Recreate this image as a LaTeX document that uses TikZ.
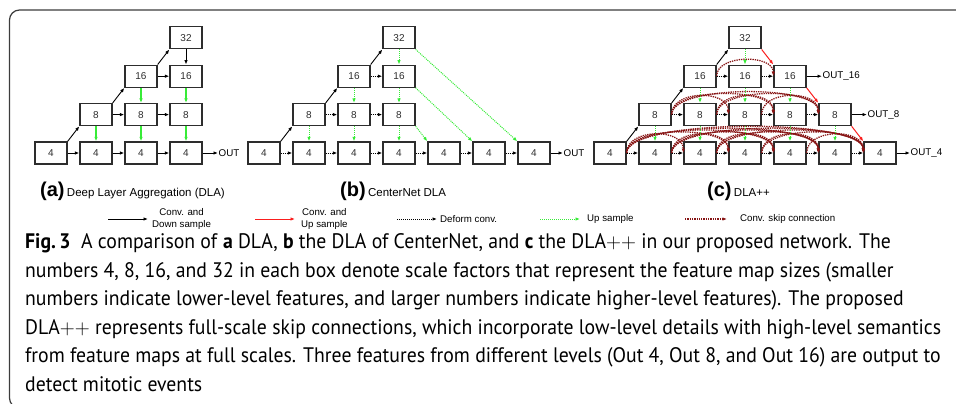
\documentclass[tikz,border=0pt]{standalone}
\usepackage{fontspec}
\setmainfont{Liberation Sans}
\newfontfamily\capfont{PT Sans}[FakeStretch=0.94]
\usetikzlibrary{calc,positioning,arrows.meta}

\definecolor{boxgray}{RGB}{45,45,45}
\definecolor{framegray}{RGB}{60,60,60}
\definecolor{upgreen}{RGB}{55,235,55}
\definecolor{upred}{RGB}{250,30,30}
\definecolor{skipred}{RGB}{135,20,20}

\tikzset{
fmap/.style={
  draw=boxgray,
  line width=1.3pt,
  minimum width=32pt,
  minimum height=22pt,
  inner sep=0pt,
  text=boxgray,
  font=\fontsize{10}{12}\selectfont
  },
convdown/.style={->,line width=0.9pt,draw=black},
convup/.style={->,line width=1pt,draw=upred},
deform/.style={->,line width=1pt,densely dotted,draw=black},
upsamp/.style={->,line width=1pt,densely dotted,draw=upgreen},
upsolid/.style={->,line width=1.2pt,draw=upgreen},
skipconn/.style={->,line width=1.3pt,densely dotted,draw=skipred},
outtext/.style={anchor=west,inner sep=0.5pt,font=\fontsize{9.8}{12}\selectfont},
panelletter/.style={anchor=base west,inner sep=0pt,font=\bfseries\fontsize{20}{22}\selectfont},
paneltitle/.style={anchor=base west,inner sep=0pt,font=\fontsize{11.5}{13}\selectfont},
legtext/.style={inner sep=0pt,align=center,font=\fontsize{9.7}{11.5}\selectfont}
}

\begin{document}
\begin{tikzpicture}[x=1pt,y=-1pt,>={Latex[length=4.5pt,width=3.5pt]}]
\useasboundingbox (0,0) rectangle (956,404);
\clip (0,0) rectangle (956,404);
\draw[framegray,line width=1.2pt,rounded corners=10pt] (9.5,10) rectangle (980,408);

% (a) plain DLA
\foreach \c in {0,...,3} \node[fmap] (a4c\c) at ({51+45*\c},153) {4};
\foreach \c in {1,...,3} \node[fmap] (a8c\c) at ({51+45*\c},114.6) {8};
\foreach \c in {2,3} \node[fmap] (a16c\c) at ({51+45*\c},76.2) {16};
\node[fmap] (a32) at (186,37.8) {32};
\node[outtext] (aout) at (218,153) {OUT};

\draw[convdown] (a4c0.north east) -- (a8c1.south west);
\draw[convdown] (a8c1.north east) -- (a16c2.south west);
\draw[convdown] (a16c2.north east) -- (a32.south west);
\draw[convdown] (a32) -- (a16c3);
\draw[convdown] (a16c2) -- (a16c3);
\draw[convdown] (a8c1) -- (a8c2);
\draw[convdown] (a8c2) -- (a8c3);
\foreach \c [count=\n from 1] in {0,1,2} \draw[convdown] (a4c\c) -- (a4c\n);
\draw[convdown] (a4c3) -- (aout);
\foreach \c in {1,2,3} \draw[upsolid] (a8c\c) -- (a4c\c);
\foreach \c in {2,3} \draw[upsolid] (a16c\c) -- (a8c\c);

% (b) CenterNet DLA
\foreach \c in {0,...,6} \node[fmap] (b4c\c) at ({264+45*\c},153) {4};
\foreach \c in {1,...,3} \node[fmap] (b8c\c) at ({264+45*\c},114.6) {8};
\foreach \c in {2,3} \node[fmap] (b16c\c) at ({264+45*\c},76.2) {16};
\node[fmap] (b32) at (399,37.8) {32};
\node[outtext] (bout) at (563,153) {OUT};

\draw[convdown] (b4c0.north east) -- (b8c1.south west);
\draw[convdown] (b8c1.north east) -- (b16c2.south west);
\draw[convdown] (b16c2.north east) -- (b32.south west);
\foreach \c [count=\n from 1] in {0,...,5} \draw[deform] (b4c\c) -- (b4c\n);
\draw[deform] (b8c1) -- (b8c2);
\draw[deform] (b8c2) -- (b8c3);
\draw[deform] (b16c2) -- (b16c3);
\draw[convdown] (b4c6) -- (bout);
\draw[upsamp] (b32) -- (b16c3);
\foreach \c in {2,3} \draw[upsamp] (b16c\c) -- (b8c\c);
\foreach \c in {1,2,3} \draw[upsamp] (b8c\c) -- (b4c\c);
\draw[upsamp] (b8c3.south east) -- (b4c4.north west);
\draw[upsamp] (b16c3.south east) -- (b4c5.north west);
\draw[upsamp] (b32.south east) -- (b4c6.north west);

% (c) DLA++
\foreach \c in {0,...,6} \node[fmap] (c4c\c) at ({610+45*\c},153) {4};
\foreach \c in {1,...,5} \node[fmap] (c8c\c) at ({610+45*\c},114.6) {8};
\foreach \c in {2,...,4} \node[fmap] (c16c\c) at ({610+45*\c},76.2) {16};
\node[fmap] (c32) at (745,37.8) {32};
\node[outtext] (cout16) at (822,76.2) {OUT\_16};
\node[outtext] (cout8) at (867,114.6) {OUT\_8};
\node[outtext] (cout4) at (910,153) {OUT\_4};

% skip connections first, boxes' arrows on top
\foreach \i in {0,...,4}{
  \pgfmathtruncatemacro\jfirst{\i+2}
  \foreach \j in {\jfirst,...,6}{
    \pgfmathsetmacro\h{20+2.5*(\j-\i)}
    \draw[skipconn] (c4c\i.east) .. controls +(0,-\h) and +(0,-\h) .. (c4c\j.west);
  }
}
\foreach \i in {1,...,3}{
  \pgfmathtruncatemacro\jfirst{\i+2}
  \foreach \j in {\jfirst,...,5}{
    \pgfmathsetmacro\h{20+2.5*(\j-\i)}
    \draw[skipconn] (c8c\i.east) .. controls +(0,-\h) and +(0,-\h) .. (c8c\j.west);
  }
}
\draw[skipconn] (c16c2.east) .. controls +(0,-22) and +(0,-22) .. (c16c4.west);

\draw[convdown] (c4c0.north east) -- (c8c1.south west);
\draw[convdown] (c8c1.north east) -- (c16c2.south west);
\draw[convdown] (c16c2.north east) -- (c32.south west);
\foreach \c [count=\n from 1] in {0,...,5} \draw[deform] (c4c\c) -- (c4c\n);
\foreach \c [count=\n from 2] in {1,...,4} \draw[deform] (c8c\c) -- (c8c\n);
\foreach \c [count=\n from 3] in {2,3} \draw[deform] (c16c\c) -- (c16c\n);
\draw[upsamp] (c32) -- (c16c3);
\foreach \c in {2,...,4} \draw[upsamp] (c16c\c) -- (c8c\c);
\foreach \c in {1,...,5} \draw[upsamp] (c8c\c) -- (c4c\c);
\draw[convup] (c32.south east) -- (c16c4.north west);
\draw[convup] (c16c4.south east) -- (c8c5.north west);
\draw[convup] (c8c5.south east) -- (c4c6.north west);
\draw[convdown] (c16c4) -- (cout16);
\draw[convdown] (c8c5) -- (cout8);
\draw[convdown] (c4c6) -- (cout4);

% panel titles
\node[panelletter] (alet) at (40,196) {(a)};
\node[paneltitle] (atitle) at (alet.base east) {\,Deep Layer Aggregation (DLA)};
\node[panelletter] (blet) at (340,196) {(b)};
\node[paneltitle] (btitle) at (blet.base east) {\,CenterNet DLA};
\node[panelletter] (clet) at (707,196) {(c)};
\node[paneltitle] (ctitle) at (clet.base east) {\,DLA++};

% legend
\coordinate (lgas) at (108,219);
\coordinate (lgae) at (148,219);
\coordinate (lgbs) at (255,219);
\coordinate (lgbe) at (295,219);
\coordinate (lgcs) at (397,219);
\coordinate (lgce) at (437,219);
\coordinate (lgds) at (540,219);
\coordinate (lgde) at (580,219);
\coordinate (lges) at (685,219);
\coordinate (lgee) at (727,219);
\draw[convdown] (lgas) -- (lgae);
\draw[convup] (lgbs) -- (lgbe);
\draw[deform] (lgcs) -- (lgce);
\draw[upsamp] (lgds) -- (lgde);
\draw[skipconn] (lges) -- (lgee);
\node[legtext,right=4pt of lgae] (lga) {Conv. and\\Down sample};
\node[legtext,right=6pt of lgbe] (lgb) {Conv. and\\Up sample};
\node[legtext,right=3pt of lgce] (lgc) {Deform conv.};
\node[legtext,right=7pt of lgde] (lgd) {Up sample};
\node[legtext,right=13pt of lgee] (lge) {Conv. skip connection};

% caption, anchored on its last line
\node[anchor=base west,align=left,inner sep=0pt,
      font=\capfont\fontsize{21}{28.6}\selectfont] (caption) at (25,391.5)
  {\textbf{Fig.\,3}\enspace A comparison of \textbf{a} DLA, \textbf{b} the DLA of CenterNet, and \textbf{c} the DLA$++$ in our proposed network. The\\
   numbers 4, 8, 16, and 32 in each box denote scale factors that represent the feature map sizes (smaller\\
   numbers indicate lower-level features, and larger numbers indicate higher-level features). The proposed\\
   DLA$++$ represents full-scale skip connections, which incorporate low-level details with high-level semantics\\
   from feature maps at full scales. Three features from different levels (Out 4, Out 8, and Out 16) are output to\\
   detect mitotic events};
\end{tikzpicture}
\end{document}
